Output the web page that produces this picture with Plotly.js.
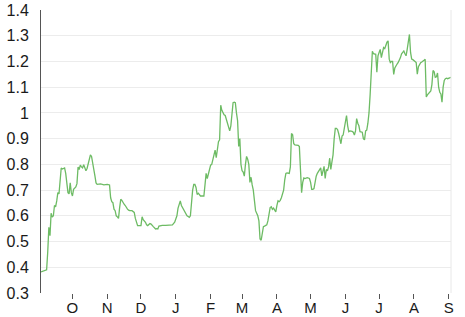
<!DOCTYPE html>
<html>
<head>
<meta charset="utf-8">
<script src="https://cdn.plot.ly/plotly-3.0.1.min.js"></script>
<style>html,body{margin:0;padding:0;background:#fff;}#chart{width:465px;height:317px;}</style>
</head>
<body>
<div id="chart"></div>
<script>
const dates = [
"2018-09-03","2018-09-05","2018-09-07","2018-09-08","2018-09-09","2018-09-10","2018-09-11","2018-09-12","2018-09-13","2018-09-14",
"2018-09-15","2018-09-16","2018-09-17","2018-09-18","2018-09-19","2018-09-20","2018-09-21","2018-09-22","2018-09-23","2018-09-24",
"2018-09-25","2018-09-26","2018-09-27","2018-09-28","2018-09-29","2018-09-30","2018-10-01","2018-10-02","2018-10-03","2018-10-04",
"2018-10-05","2018-10-06","2018-10-07","2018-10-08","2018-10-09","2018-10-10","2018-10-11","2018-10-12","2018-10-13","2018-10-14",
"2018-10-15","2018-10-16","2018-10-17","2018-10-18","2018-10-19","2018-10-20","2018-10-21","2018-10-22","2018-10-23","2018-10-26",
"2018-10-29","2018-11-01","2018-11-03","2018-11-04","2018-11-05","2018-11-06","2018-11-07","2018-11-08","2018-11-09","2018-11-10",
"2018-11-11","2018-11-12","2018-11-13","2018-11-14","2018-11-15","2018-11-16","2018-11-17","2018-11-18","2018-11-19","2018-11-20",
"2018-11-21","2018-11-23","2018-11-25","2018-11-26","2018-11-27","2018-11-28","2018-12-01","2018-12-02","2018-12-03","2018-12-04",
"2018-12-05","2018-12-06","2018-12-07","2018-12-09","2018-12-10","2018-12-12","2018-12-13","2018-12-14","2018-12-15","2018-12-16",
"2018-12-17","2018-12-18","2018-12-20","2018-12-23","2018-12-26","2018-12-29","2018-12-31","2019-01-01","2019-01-02","2019-01-03",
"2019-01-04","2019-01-05","2019-01-06","2019-01-07","2019-01-08","2019-01-09","2019-01-10","2019-01-11","2019-01-12","2019-01-13",
"2019-01-14","2019-01-15","2019-01-16","2019-01-17","2019-01-18","2019-01-19","2019-01-20","2019-01-21","2019-01-22","2019-01-23",
"2019-01-25","2019-01-26","2019-01-27","2019-01-28","2019-01-29","2019-01-30","2019-01-31","2019-02-01","2019-02-02","2019-02-03",
"2019-02-04","2019-02-05","2019-02-06","2019-02-07","2019-02-08","2019-02-09","2019-02-10","2019-02-11","2019-02-12","2019-02-13",
"2019-02-14","2019-02-15","2019-02-16","2019-02-17","2019-02-18","2019-02-19","2019-02-20","2019-02-21","2019-02-22","2019-02-23",
"2019-02-24","2019-02-25","2019-02-26","2019-02-27","2019-02-28","2019-03-01","2019-03-02","2019-03-03","2019-03-04","2019-03-05",
"2019-03-06","2019-03-07","2019-03-08","2019-03-09","2019-03-10","2019-03-11","2019-03-12","2019-03-13","2019-03-14","2019-03-15",
"2019-03-16","2019-03-17","2019-03-18","2019-03-19","2019-03-20","2019-03-21","2019-03-22","2019-03-23","2019-03-24","2019-03-25",
"2019-03-26","2019-03-27","2019-03-28","2019-03-29","2019-03-30","2019-03-31","2019-04-01","2019-04-02","2019-04-03","2019-04-04",
"2019-04-05","2019-04-06","2019-04-07","2019-04-08","2019-04-09","2019-04-10","2019-04-11","2019-04-12","2019-04-13","2019-04-14",
"2019-04-15","2019-04-16","2019-04-17","2019-04-18","2019-04-19","2019-04-20","2019-04-21","2019-04-22","2019-04-23","2019-04-24",
"2019-04-25","2019-04-26","2019-04-28","2019-04-30","2019-05-01","2019-05-02","2019-05-03","2019-05-04","2019-05-05","2019-05-06",
"2019-05-07","2019-05-08","2019-05-09","2019-05-10","2019-05-11","2019-05-12","2019-05-13","2019-05-14","2019-05-15","2019-05-16",
"2019-05-17","2019-05-18","2019-05-19","2019-05-20","2019-05-21","2019-05-22","2019-05-23","2019-05-24","2019-05-25","2019-05-26",
"2019-05-27","2019-05-28","2019-05-29","2019-05-30","2019-05-31","2019-06-01","2019-06-02","2019-06-03","2019-06-04","2019-06-05",
"2019-06-06","2019-06-07","2019-06-08","2019-06-09","2019-06-10","2019-06-11","2019-06-12","2019-06-13","2019-06-14","2019-06-15",
"2019-06-16","2019-06-17","2019-06-18","2019-06-19","2019-06-20","2019-06-21","2019-06-22","2019-06-23","2019-06-24","2019-06-25",
"2019-06-26","2019-06-27","2019-06-28","2019-06-29","2019-06-30","2019-07-01","2019-07-02","2019-07-03","2019-07-04","2019-07-05",
"2019-07-06","2019-07-07","2019-07-08","2019-07-09","2019-07-10","2019-07-11","2019-07-12","2019-07-13","2019-07-14","2019-07-15",
"2019-07-16","2019-07-17","2019-07-18","2019-07-19","2019-07-20","2019-07-21","2019-07-22","2019-07-23","2019-07-24","2019-07-25",
"2019-07-26","2019-07-27","2019-07-28","2019-07-29","2019-07-30","2019-07-31","2019-08-01","2019-08-02","2019-08-03","2019-08-04",
"2019-08-05","2019-08-06","2019-08-07","2019-08-08","2019-08-09","2019-08-10","2019-08-11","2019-08-12","2019-08-13","2019-08-14",
"2019-08-15","2019-08-16","2019-08-17","2019-08-18","2019-08-19","2019-08-20","2019-08-21","2019-08-22","2019-08-23","2019-08-24",
"2019-08-25","2019-08-26","2019-08-27","2019-08-28","2019-08-29","2019-08-30","2019-08-31","2019-09-01","2019-09-02","2019-09-03"
];
const values = [
0.382,0.385,0.388,0.390,0.46,0.555,0.523,0.61,0.595,0.60,
0.64,0.635,0.658,0.69,0.685,0.75,0.786,0.782,0.784,0.786,
0.765,0.72,0.69,0.685,0.728,0.69,0.677,0.703,0.708,0.712,
0.725,0.79,0.78,0.797,0.79,0.786,0.799,0.788,0.775,0.784,
0.80,0.815,0.837,0.831,0.81,0.78,0.755,0.728,0.722,0.724,
0.72,0.722,0.72,0.67,0.655,0.651,0.626,0.62,0.60,0.596,
0.59,0.632,0.664,0.66,0.65,0.645,0.64,0.63,0.626,0.622,
0.62,0.62,0.613,0.59,0.575,0.562,0.562,0.596,0.585,0.58,
0.575,0.565,0.562,0.57,0.568,0.558,0.555,0.549,0.55,0.549,
0.56,0.562,0.563,0.563,0.564,0.565,0.575,0.585,0.60,0.63,
0.65,0.658,0.64,0.632,0.622,0.615,0.607,0.60,0.597,0.594,
0.60,0.655,0.70,0.722,0.722,0.71,0.683,0.688,0.68,0.677,
0.677,0.677,0.72,0.765,0.745,0.765,0.786,0.797,0.80,0.82,
0.83,0.855,0.826,0.86,0.888,0.895,1.03,1.01,0.997,0.993,
0.99,0.975,0.96,0.935,0.93,0.95,0.99,1.04,1.042,1.04,
1.0,0.97,0.87,0.90,0.80,0.775,0.77,0.754,0.80,0.831,
0.82,0.80,0.73,0.75,0.72,0.70,0.66,0.62,0.61,0.60,
0.58,0.51,0.505,0.54,0.558,0.56,0.562,0.565,0.58,0.60,
0.632,0.635,0.625,0.63,0.619,0.615,0.64,0.658,0.655,0.66,
0.67,0.685,0.70,0.74,0.765,0.767,0.767,0.765,0.79,0.92,
0.915,0.88,0.876,0.876,0.874,0.874,0.869,0.78,0.69,0.73,
0.747,0.745,0.748,0.745,0.73,0.703,0.703,0.706,0.735,0.754,
0.765,0.773,0.78,0.786,0.755,0.77,0.792,0.745,0.78,0.775,
0.79,0.824,0.78,0.81,0.837,0.90,0.94,0.94,0.935,0.92,
0.905,0.88,0.91,0.914,0.94,0.96,0.99,0.95,0.927,0.93,
0.93,0.928,0.925,0.914,0.93,0.978,0.96,0.95,0.927,0.927,
0.925,0.90,0.895,0.93,0.933,0.96,1.0,1.07,1.15,1.24,
1.23,1.228,1.228,1.158,1.222,1.235,1.247,1.215,1.24,1.254,
1.25,1.265,1.275,1.28,1.209,1.196,1.2,1.2,1.15,1.175,
1.185,1.19,1.196,1.205,1.215,1.23,1.235,1.241,1.23,1.222,
1.247,1.27,1.305,1.235,1.209,1.207,1.205,1.2,1.196,1.151,
1.18,1.19,1.195,1.198,1.2,1.205,1.209,1.062,1.07,1.076,
1.081,1.085,1.11,1.165,1.16,1.138,1.14,1.155,1.10,1.08,
1.074,1.042,1.10,1.126,1.133,1.135,1.133,1.135,1.137,1.138
];
const tickDates = ["2018-10-01","2018-11-01","2018-12-01","2019-01-01","2019-02-01","2019-03-01","2019-04-01","2019-05-01","2019-06-01","2019-07-01","2019-08-01","2019-09-01"];
const tickLabels = ["O","N","D","J","F","M","A","M","J","J","A","S"];
const yTicks = [0.3,0.4,0.5,0.6,0.7,0.8,0.9,1.0,1.1,1.2,1.3,1.4];
const yTickLabels = ["0.3","0.4","0.5","0.6","0.7","0.8","0.9","1","1.1","1.2","1.3","1.4"];

const trace = {
  x: dates, y: values, type: "scatter", mode: "lines",
  line: {color: "#6dbb64", width: 1.3},
  hoverinfo: "skip"
};
const layout = {
  width: 465, height: 317,
  margin: {l: 41, r: 14, t: 10, b: 24},
  paper_bgcolor: "#ffffff", plot_bgcolor: "#ffffff",
  showlegend: false,
  font: {family: "Liberation Sans, Arial, sans-serif", size: 16, color: "#1a1a1a"},
  xaxis: {
    type: "date", range: ["2018-09-03", "2019-09-03"],
    tickmode: "array", tickvals: tickDates, ticktext: tickLabels,
    ticks: "outside", ticklen: 5, tickwidth: 1, tickcolor: "#555",
    ticklabelstandoff: -4, ticklabeloverflow: "allow",
    showgrid: false, zeroline: false, showline: false,
    tickfont: {size: 15, color: "#1a1a1a"}
  },
  yaxis: {
    range: [0.2999, 1.4001], tickmode: "array", tickvals: yTicks, ticktext: yTickLabels,
    showgrid: true, gridcolor: "#ececec", gridwidth: 1,
    zeroline: false, showline: true, linecolor: "#555", linewidth: 1,
    ticks: "", ticklabelstandoff: 8, ticklabeloverflow: "allow",
    tickfont: {size: 16, color: "#1a1a1a"}
  },
  shapes: [{type: "line", xref: "paper", yref: "paper", x0: 1, x1: 1, y0: 0, y1: 1, line: {color: "#e8e8e8", width: 1}}]
};
Plotly.newPlot("chart", [trace], layout, {staticPlot: true, displayModeBar: false});
</script>
</body>
</html>
